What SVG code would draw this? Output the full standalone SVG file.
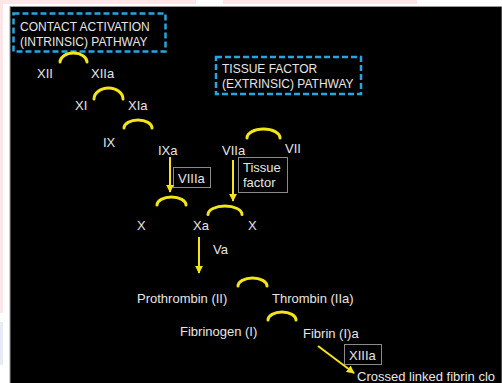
<svg xmlns="http://www.w3.org/2000/svg" width="502" height="383" viewBox="0 0 502 383">
<style>
.t{font-family:"Liberation Sans",Arial,sans-serif;font-size:13px;fill:#e6e6e6}
.h{font-family:"Liberation Sans",Arial,sans-serif;font-size:12px;fill:#e6e6e6}
.dash{fill:none;stroke:#27a6de;stroke-width:2.5;stroke-dasharray:6 3}
.box{fill:none;stroke:#8a8a8a;stroke-width:1}
.arc{fill:none;stroke:#f2e51c;stroke-width:3;stroke-linecap:round}
.arr{fill:none;stroke:#f2e51c;stroke-width:2;marker-end:url(#ah)}
</style>
<defs>
<marker id="ah" viewBox="0 0 10 10" refX="9" refY="5" markerWidth="4" markerHeight="4" orient="auto" markerUnits="strokeWidth">
<path d="M0,0 L10,5 L0,10 Z" fill="#f2e51c"/>
</marker>
</defs>
<rect width="502" height="383" fill="#ffffff"/>
<rect x="0" y="0" width="196" height="4" fill="#fde6e8"/>
<rect x="223" y="0" width="194" height="4" fill="#fde6e8"/>
<rect x="0" y="0" width="3" height="313" fill="#fde6e8"/>
<rect x="0" y="322" width="3" height="43" fill="#e8eaf6"/>
<rect x="10" y="6.5" width="492" height="377" fill="#000000" stroke="#9a9a9a" stroke-width="1"/>

<g id="intrinsic-pathway">
<rect class="dash" x="13.5" y="13.5" width="152" height="38"/>
<text class="h" x="20" y="31">CONTACT ACTIVATION</text>
<text class="h" x="20" y="46">(INTRINSIC) PATHWAY</text>
</g>
<g id="extrinsic-pathway">
<rect class="dash" x="216" y="57" width="145" height="37"/>
<text class="h" x="222" y="73">TISSUE FACTOR</text>
<text class="h" x="222" y="88">(EXTRINSIC) PATHWAY</text>
</g>

<g id="XII"><text class="t" x="37" y="78">XII</text></g>
<g id="XIIa"><text class="t" x="91" y="78">XIIa</text></g>
<g id="XI"><text class="t" x="75" y="110">XI</text></g>
<g id="XIa"><text class="t" x="128" y="110">XIa</text></g>
<g id="IX"><text class="t" x="103" y="147">IX</text></g>
<g id="IXa"><text class="t" x="158" y="155">IXa</text></g>
<g id="VIIa"><text class="t" x="222" y="155">VIIa</text></g>
<g id="VII"><text class="t" x="285" y="153">VII</text></g>
<g id="VIIIa"><rect class="box" x="173.5" y="167.5" width="37" height="20"/><text class="t" x="178" y="183">VIIIa</text></g>
<g id="tissue-factor"><rect class="box" x="238.5" y="157.5" width="49" height="35"/><text class="t" x="243" y="172">Tissue</text><text class="t" x="243" y="187">factor</text></g>
<g id="X-left"><text class="t" x="137" y="230">X</text></g>
<g id="Xa"><text class="t" x="193" y="230">Xa</text></g>
<g id="X-right"><text class="t" x="248" y="230">X</text></g>
<g id="Va"><text class="t" x="213" y="254">Va</text></g>
<g id="prothrombin"><text class="t" x="137" y="303">Prothrombin (II)</text></g>
<g id="thrombin"><text class="t" x="272" y="303">Thrombin (IIa)</text></g>
<g id="fibrinogen"><text class="t" x="180" y="336">Fibrinogen (I)</text></g>
<g id="fibrin"><text class="t" x="303" y="338">Fibrin (I)a</text></g>
<g id="XIIIa"><rect class="box" x="344.5" y="344.5" width="37" height="20"/><text class="t" x="349" y="360">XIIIa</text></g>
<g id="clot"><text class="t" x="357" y="381">Crossed linked fibrin clo</text></g>

<g id="connectors">
<path class="arc" d="M60,62 A13.5,9 0 0 1 87,62"/>
<path class="arc" d="M94,99 A14.5,11 0 0 1 123,99"/>
<path class="arc" d="M124,128 A14,8 0 0 1 152,128"/>
<path class="arc" d="M247,138 A16.5,9 0 0 1 280,138"/>
<path class="arc" d="M157,205 A14.5,8 0 0 1 186,205"/>
<path class="arc" d="M208,214.5 A17,8.5 0 0 1 242,214.5"/>
<path class="arc" d="M238,286 A14.5,8 0 0 1 267,286"/>
<path class="arc" d="M268,320 A14,8 0 0 1 296,320"/>
<path class="arr" d="M170,157 L170,192"/>
<path class="arr" d="M233,160 L233,201"/>
<path class="arr" d="M199,237 L199,273"/>
<path class="arr" d="M318,346 L354,373"/>
</g>
</svg>
